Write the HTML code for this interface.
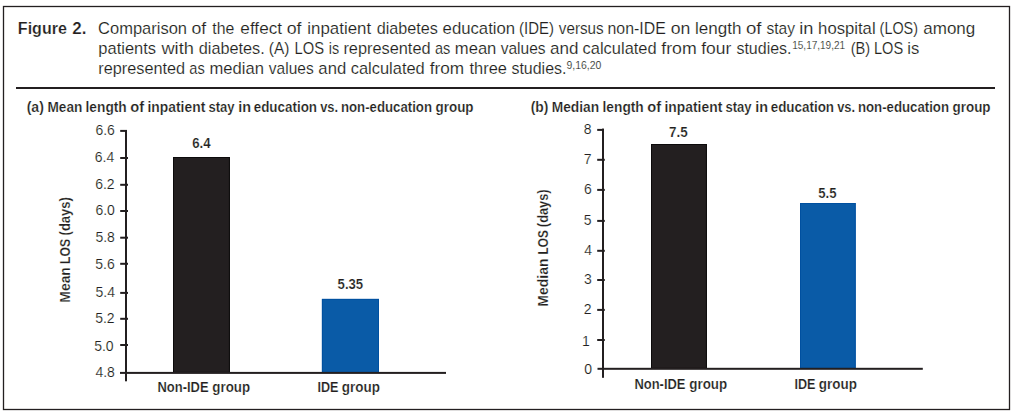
<!DOCTYPE html>
<html><head><meta charset="utf-8">
<style>
html,body{margin:0;padding:0;background:#fff;}
body{width:1016px;height:418px;overflow:hidden;}
svg{display:block;font-family:"Liberation Sans",sans-serif;}
text{stroke:#fff;stroke-width:0.15px;}
text[font-weight=bold]{stroke-width:0.2px;}
</style></head><body>
<svg width="1016" height="418" viewBox="0 0 1016 418">
<rect x="0" y="0" width="1016" height="418" fill="#fff"/>
<rect x="3.5" y="6.5" width="1006" height="403" fill="none" stroke="#231f20" stroke-width="1.3"/>
<g fill="#231f20">
<text x="17.83" y="33.9" font-size="16.4" font-weight="bold" textLength="49.02" lengthAdjust="spacingAndGlyphs">Figure</text>
<text x="72.31" y="33.9" font-size="16.4" font-weight="bold" textLength="14.16" lengthAdjust="spacingAndGlyphs">2.</text>
<text x="98.06" y="33.9" font-size="16.4" textLength="89.01" lengthAdjust="spacingAndGlyphs">Comparison</text>
<text x="191.46" y="33.9" font-size="16.4" textLength="14.72" lengthAdjust="spacingAndGlyphs">of</text>
<text x="212.36" y="33.9" font-size="16.4" textLength="22.04" lengthAdjust="spacingAndGlyphs">the</text>
<text x="240.38" y="33.9" font-size="16.4" textLength="41.65" lengthAdjust="spacingAndGlyphs">effect</text>
<text x="286.65" y="33.9" font-size="16.4" textLength="14.82" lengthAdjust="spacingAndGlyphs">of</text>
<text x="307.37" y="33.9" font-size="16.4" textLength="63.75" lengthAdjust="spacingAndGlyphs">inpatient</text>
<text x="376.72" y="33.9" font-size="16.4" textLength="61.27" lengthAdjust="spacingAndGlyphs">diabetes</text>
<text x="442.59" y="33.9" font-size="16.4" textLength="72.60" lengthAdjust="spacingAndGlyphs">education</text>
<text x="519.07" y="33.9" font-size="16.4" textLength="34.85" lengthAdjust="spacingAndGlyphs">(IDE)</text>
<text x="558.85" y="33.9" font-size="16.4" textLength="44.80" lengthAdjust="spacingAndGlyphs">versus</text>
<text x="607.55" y="33.9" font-size="16.4" textLength="58.24" lengthAdjust="spacingAndGlyphs">non-IDE</text>
<text x="670.76" y="33.9" font-size="16.4" textLength="19.58" lengthAdjust="spacingAndGlyphs">on</text>
<text x="694.95" y="33.9" font-size="16.4" textLength="46.46" lengthAdjust="spacingAndGlyphs">length</text>
<text x="745.92" y="33.9" font-size="16.4" textLength="15.56" lengthAdjust="spacingAndGlyphs">of</text>
<text x="766.47" y="33.9" font-size="16.4" textLength="28.56" lengthAdjust="spacingAndGlyphs">stay</text>
<text x="799.18" y="33.9" font-size="16.4" textLength="14.21" lengthAdjust="spacingAndGlyphs">in</text>
<text x="818.14" y="33.9" font-size="16.4" textLength="57.47" lengthAdjust="spacingAndGlyphs">hospital</text>
<text x="879.61" y="33.9" font-size="16.4" textLength="38.39" lengthAdjust="spacingAndGlyphs">(LOS)</text>
<text x="923.28" y="33.9" font-size="16.4" textLength="52.02" lengthAdjust="spacingAndGlyphs">among</text>
<text x="98.34" y="53.7" font-size="16.4" textLength="57.76" lengthAdjust="spacingAndGlyphs">patients</text>
<text x="161.43" y="53.7" font-size="16.4" textLength="32.46" lengthAdjust="spacingAndGlyphs">with</text>
<text x="198.72" y="53.7" font-size="16.4" textLength="66.07" lengthAdjust="spacingAndGlyphs">diabetes.</text>
<text x="268.74" y="53.7" font-size="16.4" textLength="20.62" lengthAdjust="spacingAndGlyphs">(A)</text>
<text x="294.49" y="53.7" font-size="16.4" textLength="29.49" lengthAdjust="spacingAndGlyphs">LOS</text>
<text x="328.74" y="53.7" font-size="16.4" textLength="10.38" lengthAdjust="spacingAndGlyphs">is</text>
<text x="343.42" y="53.7" font-size="16.4" textLength="87.14" lengthAdjust="spacingAndGlyphs">represented</text>
<text x="434.88" y="53.7" font-size="16.4" textLength="15.34" lengthAdjust="spacingAndGlyphs">as</text>
<text x="454.80" y="53.7" font-size="16.4" textLength="41.58" lengthAdjust="spacingAndGlyphs">mean</text>
<text x="500.65" y="53.7" font-size="16.4" textLength="44.91" lengthAdjust="spacingAndGlyphs">values</text>
<text x="550.08" y="53.7" font-size="16.4" textLength="28.42" lengthAdjust="spacingAndGlyphs">and</text>
<text x="582.60" y="53.7" font-size="16.4" textLength="74.06" lengthAdjust="spacingAndGlyphs">calculated</text>
<text x="661.25" y="53.7" font-size="16.4" textLength="35.42" lengthAdjust="spacingAndGlyphs">from</text>
<text x="701.25" y="53.7" font-size="16.4" textLength="30.04" lengthAdjust="spacingAndGlyphs">four</text>
<text x="736.45" y="53.7" font-size="16.4" textLength="55.11" lengthAdjust="spacingAndGlyphs">studies.</text>
<text x="850.69" y="53.7" font-size="16.4" textLength="19.52" lengthAdjust="spacingAndGlyphs">(B)</text>
<text x="874.00" y="53.7" font-size="16.4" textLength="29.16" lengthAdjust="spacingAndGlyphs">LOS</text>
<text x="907.39" y="53.7" font-size="16.4" textLength="12.01" lengthAdjust="spacingAndGlyphs">is</text>
<text x="792.24" y="48.8" font-size="10.5" textLength="52.85" lengthAdjust="spacingAndGlyphs">15,17,19,21</text>
<text x="98.32" y="74.1" font-size="16.4" textLength="86.83" lengthAdjust="spacingAndGlyphs">represented</text>
<text x="189.28" y="74.1" font-size="16.4" textLength="15.45" lengthAdjust="spacingAndGlyphs">as</text>
<text x="209.50" y="74.1" font-size="16.4" textLength="54.38" lengthAdjust="spacingAndGlyphs">median</text>
<text x="268.85" y="74.1" font-size="16.4" textLength="44.81" lengthAdjust="spacingAndGlyphs">values</text>
<text x="318.39" y="74.1" font-size="16.4" textLength="27.78" lengthAdjust="spacingAndGlyphs">and</text>
<text x="350.70" y="74.1" font-size="16.4" textLength="74.06" lengthAdjust="spacingAndGlyphs">calculated</text>
<text x="429.66" y="74.1" font-size="16.4" textLength="34.38" lengthAdjust="spacingAndGlyphs">from</text>
<text x="469.55" y="74.1" font-size="16.4" textLength="37.38" lengthAdjust="spacingAndGlyphs">three</text>
<text x="511.46" y="74.1" font-size="16.4" textLength="55.00" lengthAdjust="spacingAndGlyphs">studies.</text>
<text x="566.51" y="68.7" font-size="10.5" textLength="34.90" lengthAdjust="spacingAndGlyphs">9,16,20</text>
<rect x="16" y="87" width="979" height="2" fill="#231f20"/>
<text x="26.70" y="111.8" font-size="14.3" font-weight="bold" textLength="17.20" lengthAdjust="spacingAndGlyphs">(a)</text>
<text x="47.49" y="111.8" font-size="14.3" font-weight="bold" textLength="34.86" lengthAdjust="spacingAndGlyphs">Mean</text>
<text x="85.54" y="111.8" font-size="14.3" font-weight="bold" textLength="41.21" lengthAdjust="spacingAndGlyphs">length</text>
<text x="130.23" y="111.8" font-size="14.3" font-weight="bold" textLength="13.84" lengthAdjust="spacingAndGlyphs">of</text>
<text x="147.53" y="111.8" font-size="14.3" font-weight="bold" textLength="57.74" lengthAdjust="spacingAndGlyphs">inpatient</text>
<text x="208.44" y="111.8" font-size="14.3" font-weight="bold" textLength="26.13" lengthAdjust="spacingAndGlyphs">stay</text>
<text x="238.39" y="111.8" font-size="14.3" font-weight="bold" textLength="12.80" lengthAdjust="spacingAndGlyphs">in</text>
<text x="253.68" y="111.8" font-size="14.3" font-weight="bold" textLength="63.36" lengthAdjust="spacingAndGlyphs">education</text>
<text x="320.15" y="111.8" font-size="14.3" font-weight="bold" textLength="17.94" lengthAdjust="spacingAndGlyphs">vs.</text>
<text x="340.93" y="111.8" font-size="14.3" font-weight="bold" textLength="91.09" lengthAdjust="spacingAndGlyphs">non-education</text>
<text x="435.55" y="111.8" font-size="14.3" font-weight="bold" textLength="38.00" lengthAdjust="spacingAndGlyphs">group</text>
<text x="530.71" y="111.8" font-size="14.3" font-weight="bold" textLength="17.68" lengthAdjust="spacingAndGlyphs">(b)</text>
<text x="551.68" y="111.8" font-size="14.3" font-weight="bold" textLength="47.48" lengthAdjust="spacingAndGlyphs">Median</text>
<text x="602.54" y="111.8" font-size="14.3" font-weight="bold" textLength="41.21" lengthAdjust="spacingAndGlyphs">length</text>
<text x="647.23" y="111.8" font-size="14.3" font-weight="bold" textLength="13.84" lengthAdjust="spacingAndGlyphs">of</text>
<text x="664.53" y="111.8" font-size="14.3" font-weight="bold" textLength="57.74" lengthAdjust="spacingAndGlyphs">inpatient</text>
<text x="725.44" y="111.8" font-size="14.3" font-weight="bold" textLength="26.13" lengthAdjust="spacingAndGlyphs">stay</text>
<text x="755.39" y="111.8" font-size="14.3" font-weight="bold" textLength="12.80" lengthAdjust="spacingAndGlyphs">in</text>
<text x="770.68" y="111.8" font-size="14.3" font-weight="bold" textLength="63.36" lengthAdjust="spacingAndGlyphs">education</text>
<text x="837.15" y="111.8" font-size="14.3" font-weight="bold" textLength="17.94" lengthAdjust="spacingAndGlyphs">vs.</text>
<text x="857.93" y="111.8" font-size="14.3" font-weight="bold" textLength="91.09" lengthAdjust="spacingAndGlyphs">non-education</text>
<text x="952.55" y="111.8" font-size="14.3" font-weight="bold" textLength="38.00" lengthAdjust="spacingAndGlyphs">group</text>
<rect x="173" y="157" width="56.9" height="215.9" fill="#231f20"/><rect x="173.50" y="157.50" width="55.90" height="214.90" fill="none" stroke="#0c0a0b" stroke-width="1"/>
<rect x="321.9" y="298.9" width="57.1" height="74" fill="#0a5ba7"/><rect x="322.40" y="299.40" width="56.10" height="73.00" fill="none" stroke="#0050a0" stroke-width="1"/>
<rect x="125" y="130" width="2" height="251.3" fill="#231f20"/>
<rect x="120" y="371.9" width="326" height="2" fill="#231f20"/>
<rect x="120.2" y="129.90" width="6.8" height="2" fill="#231f20"/>
<text x="114.92" y="134.80" font-size="14" text-anchor="end">6.6</text>
<rect x="120.2" y="157.00" width="7.8" height="2" fill="#231f20"/>
<text x="114.31" y="161.90" font-size="14" text-anchor="end">6.4</text>
<rect x="120.2" y="183.80" width="7.8" height="2" fill="#231f20"/>
<text x="114.60" y="188.90" font-size="14" text-anchor="end">6.2</text>
<rect x="120.2" y="210.00" width="7.8" height="2" fill="#231f20"/>
<text x="114.85" y="214.90" font-size="14" text-anchor="end">6.0</text>
<rect x="120.2" y="236.70" width="7.8" height="2" fill="#231f20"/>
<text x="114.91" y="241.90" font-size="14" text-anchor="end">5.8</text>
<rect x="120.2" y="262.80" width="7.8" height="2" fill="#231f20"/>
<text x="114.72" y="268.60" font-size="14" text-anchor="end">5.6</text>
<rect x="120.2" y="291.90" width="7.8" height="2" fill="#231f20"/>
<text x="115.01" y="296.90" font-size="14" text-anchor="end">5.4</text>
<rect x="120.2" y="317.80" width="7.8" height="2" fill="#231f20"/>
<text x="114.60" y="322.90" font-size="14" text-anchor="end">5.2</text>
<rect x="120.2" y="344.00" width="7.8" height="2" fill="#231f20"/>
<text x="113.65" y="350.80" font-size="14" text-anchor="end">5.0</text>
<text x="114.91" y="376.90" font-size="14" text-anchor="end">4.8</text>
<text x="192.21" y="148" font-size="15" font-weight="bold" textLength="18.46" lengthAdjust="spacingAndGlyphs">6.4</text>
<text x="337.60" y="288.7" font-size="15" font-weight="bold" textLength="25.57" lengthAdjust="spacingAndGlyphs">5.35</text>
<text x="157.53" y="391.8" font-size="14.8" font-weight="bold" textLength="51.07" lengthAdjust="spacingAndGlyphs">Non-IDE</text>
<text x="212.35" y="391.8" font-size="14.8" font-weight="bold" textLength="37.69" lengthAdjust="spacingAndGlyphs">group</text>
<text x="317.46" y="391.8" font-size="14.8" font-weight="bold" textLength="21.04" lengthAdjust="spacingAndGlyphs">IDE</text>
<text x="341.75" y="391.8" font-size="14.8" font-weight="bold" textLength="38.10" lengthAdjust="spacingAndGlyphs">group</text>
<text transform="translate(70.0,302.63) rotate(-90)" x="0" y="0" font-size="14.5" font-weight="bold" textLength="35.49" lengthAdjust="spacingAndGlyphs">Mean</text>
<text transform="translate(70.0,263.91) rotate(-90)" x="0" y="0" font-size="14.5" font-weight="bold" textLength="24.88" lengthAdjust="spacingAndGlyphs">LOS</text>
<text transform="translate(70.0,235.45) rotate(-90)" x="0" y="0" font-size="14.5" font-weight="bold" textLength="38.40" lengthAdjust="spacingAndGlyphs">(days)</text>
<rect x="651" y="144" width="55.9" height="224.8" fill="#231f20"/><rect x="651.50" y="144.50" width="54.90" height="223.80" fill="none" stroke="#0c0a0b" stroke-width="1"/>
<rect x="800" y="203" width="55.7" height="165.8" fill="#0a5ba7"/><rect x="800.50" y="203.50" width="54.70" height="164.80" fill="none" stroke="#0050a0" stroke-width="1"/>
<rect x="602" y="128.6" width="2" height="249.2" fill="#231f20"/>
<rect x="597.5" y="367.8" width="325.3" height="2" fill="#231f20"/>
<rect x="597.2" y="128.90" width="6.6" height="2" fill="#231f20"/>
<text x="591.51" y="133.90" font-size="14" text-anchor="end">8</text>
<rect x="597.2" y="158.80" width="7.6" height="2" fill="#231f20"/>
<text x="591.60" y="163.90" font-size="14" text-anchor="end">7</text>
<rect x="597.2" y="188.90" width="7.6" height="2" fill="#231f20"/>
<text x="591.82" y="193.90" font-size="14" text-anchor="end">6</text>
<rect x="597.2" y="219.90" width="7.6" height="2" fill="#231f20"/>
<text x="591.49" y="224.90" font-size="14" text-anchor="end">5</text>
<rect x="597.2" y="249.80" width="7.6" height="2" fill="#231f20"/>
<text x="592.01" y="254.90" font-size="14" text-anchor="end">4</text>
<rect x="597.2" y="279.00" width="7.6" height="2" fill="#231f20"/>
<text x="591.82" y="283.90" font-size="14" text-anchor="end">3</text>
<rect x="597.2" y="308.90" width="7.6" height="2" fill="#231f20"/>
<text x="591.60" y="313.90" font-size="14" text-anchor="end">2</text>
<rect x="597.2" y="339.00" width="7.6" height="2" fill="#231f20"/>
<text x="589.68" y="345.80" font-size="14" text-anchor="end">1</text>
<text x="592.15" y="373.60" font-size="14" text-anchor="end">0</text>
<text x="669.12" y="136.8" font-size="15" font-weight="bold" textLength="18.65" lengthAdjust="spacingAndGlyphs">7.5</text>
<text x="818.30" y="197.8" font-size="15" font-weight="bold" textLength="18.27" lengthAdjust="spacingAndGlyphs">5.5</text>
<text x="634.43" y="388.8" font-size="14.8" font-weight="bold" textLength="51.07" lengthAdjust="spacingAndGlyphs">Non-IDE</text>
<text x="689.25" y="388.8" font-size="14.8" font-weight="bold" textLength="37.90" lengthAdjust="spacingAndGlyphs">group</text>
<text x="794.46" y="388.8" font-size="14.8" font-weight="bold" textLength="21.04" lengthAdjust="spacingAndGlyphs">IDE</text>
<text x="818.75" y="388.8" font-size="14.8" font-weight="bold" textLength="38.10" lengthAdjust="spacingAndGlyphs">group</text>
<text transform="translate(548,306.64) rotate(-90)" x="0" y="0" font-size="14.5" font-weight="bold" textLength="48.20" lengthAdjust="spacingAndGlyphs">Median</text>
<text transform="translate(548,254.39) rotate(-90)" x="0" y="0" font-size="14.5" font-weight="bold" textLength="24.25" lengthAdjust="spacingAndGlyphs">LOS</text>
<text transform="translate(548,227.14) rotate(-90)" x="0" y="0" font-size="14.5" font-weight="bold" textLength="37.78" lengthAdjust="spacingAndGlyphs">(days)</text>
</g>
</svg>
</body></html>
